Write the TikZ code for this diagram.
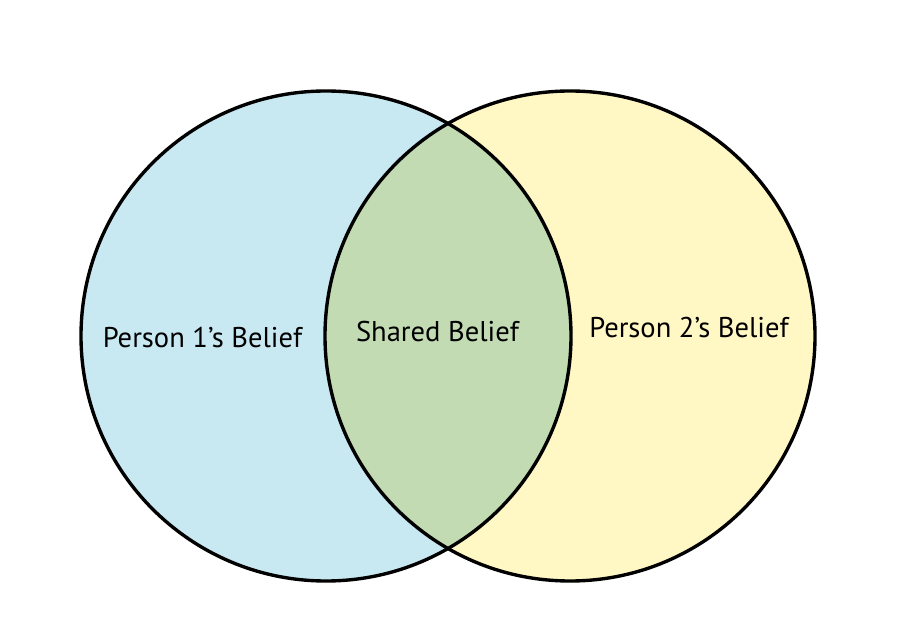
\documentclass[tikz,border=0pt]{standalone}
\usepackage{fontspec}
\setmainfont{PT Sans}
\usepackage{tikz}

\definecolor{leftblue}{RGB}{200,232,242}
\definecolor{rightyellow}{RGB}{255,247,196}
\definecolor{sharedgreen}{RGB}{194,219,179}

\tikzset{belief/.style={anchor=base,inner sep=0pt,font=\fontsize{20.3}{24}\selectfont}}

\begin{document}
\begin{tikzpicture}[x=0.025cm,y=0.025cm]
    \useasboundingbox (0,0) rectangle (900,632);
    \coordinate (c1) at (326,296);
    \coordinate (c2) at (570,296);
    \fill[leftblue] (c1) circle (245);
    \fill[rightyellow] (c2) circle (245);
    \begin{scope}
        \clip (c1) circle (245);
        \fill[sharedgreen] (c2) circle (245);
    \end{scope}
    \draw[line width=2.4pt] (c1) circle (245);
    \draw[line width=2.4pt] (c2) circle (245);
    \node[belief] (p1) at (202.5,284) {Person 1’s Belief};
    \node[belief] (shared) at (437.5,290) {Shared Belief};
    \node[belief] (p2) at (689,294) {Person 2’s Belief};
   \end{tikzpicture}
\end{document}
